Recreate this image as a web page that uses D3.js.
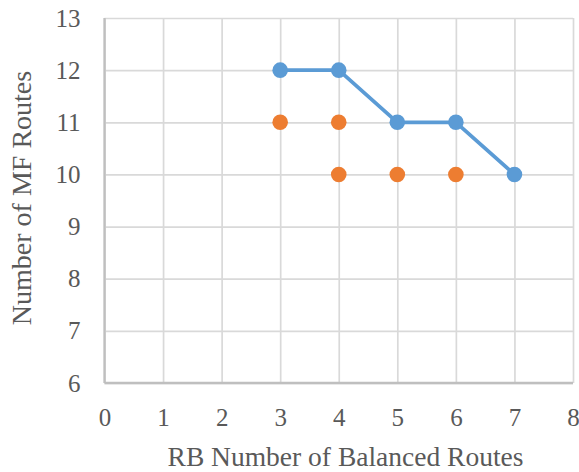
<!DOCTYPE html>
<html>
<head>
<meta charset="utf-8">
<script src="https://cdn.jsdelivr.net/npm/d3@7"></script>
<style>
  body { margin: 0; background: #fff; }
</style>
</head>
<body>
<script>
// data
var mfX = [3, 4, 5, 6, 7];
var mfY = [12, 12, 11, 11, 10];
var otherX = [3, 4, 4, 5, 6];
var otherY = [11, 11, 10, 10, 10];
var xTicks = [0, 1, 2, 3, 4, 5, 6, 7, 8];
var yTicks = [6, 7, 8, 9, 10, 11, 12, 13];

var w = 579, h = 472;
var padL = 104.5, padR = 573, padT = 18, padB = 383;
var serif = "'Liberation Serif'";
var grey = "#595959";

var xScale = d3.scaleLinear().domain([0, 8]).range([padL, padR]);
var yScale = d3.scaleLinear().domain([6, 13]).range([padB, padT]);

var svg = d3.select("body").append("svg")
    .attr("width", w)
    .attr("height", h);

// grid
var xGrid = d3.axisBottom(xScale).tickValues(xTicks).tickSize(-(padB - padT)).tickFormat("");
var yGrid = d3.axisLeft(yScale).tickValues(yTicks).tickSize(-(padR - padL)).tickFormat("");

svg.append("g")
   .attr("transform", "translate(0," + padB + ")")
   .call(xGrid)
   .call(function(g) { g.select(".domain").remove(); })
   .selectAll("line").attr("stroke", "#d9d9d9").attr("stroke-width", 1.7);

svg.append("g")
   .attr("transform", "translate(" + padL + ",0)")
   .call(yGrid)
   .call(function(g) { g.select(".domain").remove(); })
   .selectAll("line").attr("stroke", "#d9d9d9").attr("stroke-width", 1.7);

// axis lines
svg.append("line")
   .attr("x1", padL).attr("x2", padL).attr("y1", padT).attr("y2", padB)
   .attr("stroke", "#bfbfbf").attr("stroke-width", 2.3);
svg.append("line")
   .attr("x1", padL).attr("x2", padR).attr("y1", padB).attr("y2", padB)
   .attr("stroke", "#bfbfbf").attr("stroke-width", 2.3);

// tick labels
var xAxis = d3.axisBottom(xScale).tickValues(xTicks).tickSize(0).tickPadding(25).tickFormat(d3.format("d"));
var yAxis = d3.axisLeft(yScale).tickValues(yTicks).tickSize(0).tickPadding(24).tickFormat(d3.format("d"));

svg.append("g")
   .attr("transform", "translate(0," + padB + ")")
   .call(xAxis)
   .call(function(g) { g.select(".domain").remove(); })
   .selectAll("text")
   .style("font-family", serif).style("font-size", "25px").attr("fill", grey);

svg.append("g")
   .attr("transform", "translate(" + padL + ",0)")
   .call(yAxis)
   .call(function(g) { g.select(".domain").remove(); })
   .selectAll("text")
   .style("font-family", serif).style("font-size", "25px").attr("fill", grey);

// series
var line = d3.line()
    .x(function(d, i) { return xScale(mfX[i]); })
    .y(function(d, i) { return yScale(mfY[i]); });

svg.append("path")
   .datum(mfX)
   .attr("d", line)
   .attr("fill", "none")
   .attr("stroke", "#5b9bd5")
   .attr("stroke-width", 3.7);

svg.selectAll("circle.mf")
   .data(mfX)
   .enter()
   .append("circle")
   .attr("class", "mf")
   .attr("cx", function(d, i) { return xScale(mfX[i]); })
   .attr("cy", function(d, i) { return yScale(mfY[i]); })
   .attr("r", 7.8)
   .attr("fill", "#5b9bd5");

svg.selectAll("circle.other")
   .data(otherX)
   .enter()
   .append("circle")
   .attr("class", "other")
   .attr("cx", function(d, i) { return xScale(otherX[i]); })
   .attr("cy", function(d, i) { return yScale(otherY[i]); })
   .attr("r", 7.8)
   .attr("fill", "#ed7d31");

// axis titles
svg.append("text")
   .attr("x", 345.5)
   .attr("y", 466)
   .attr("text-anchor", "middle")
   .style("font-family", serif).style("font-size", "27.5px").attr("fill", grey)
   .text("RB Number of Balanced Routes");

svg.append("text")
   .attr("transform", "translate(31,198) rotate(-90)")
   .attr("text-anchor", "middle")
   .style("font-family", serif).style("font-size", "28px").attr("fill", grey)
   .text("Number of MF Routes");
</script>
</body>
</html>
